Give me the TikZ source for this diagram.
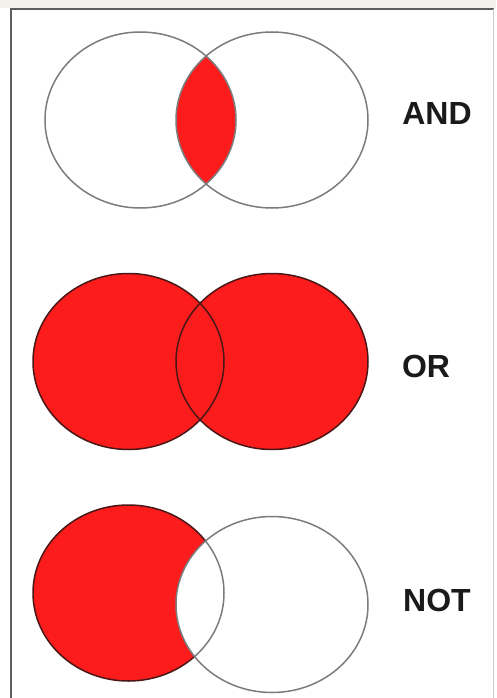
\documentclass[tikz,border=0pt]{standalone}
\usepackage{fontspec}
\setmainfont{Liberation Sans}
\usepackage{xcolor}
\usepackage{tikz}
\definecolor{cRed}{HTML}{FC1C1C}
\definecolor{cEdge}{HTML}{7C7C7C}
\definecolor{cDark}{HTML}{4A1616}
\definecolor{cFrame}{HTML}{5E5E5E}
\definecolor{cTop}{HTML}{F4F1ED}
\definecolor{cInk}{HTML}{1A1A1A}
\tikzset{
  ring/.style={draw=cEdge,line width=1.5pt},
  darkring/.style={draw=cDark,line width=1.5pt},
  oplbl/.style={font=\fontsize{32}{32}\selectfont\bfseries,text=cInk,inner sep=0pt},
  lset/.style={x radius=95.5,y radius=88},
  rset/.style={x radius=96,y radius=88},
}

\begin{document}
\begin{tikzpicture}[x=1pt,y=-1pt]
  \useasboundingbox (0,0) rectangle (496,698);
  \fill[white] (0,0) rectangle (496,698);
  \fill[cTop] (0,0) rectangle (496,8);
  \draw[cFrame,line width=2pt] (11,698) -- (11,9) -- (494,9);
  \draw[black!20,line width=1pt] (493,9) -- (493,698);

  % AND: only the overlap is filled
  \begin{scope}
    \clip (140.5,120) ellipse [lset];
    \fill[cRed] (272,120) ellipse [rset];
  \end{scope}
  \draw[ring] (140.5,120) ellipse [lset];
  \draw[ring] (272,120) ellipse [rset];
  \node[oplbl] (andlbl) at (437,113) {AND};

  % OR: both sets filled
  \fill[cRed] (128.5,361.5) ellipse [lset];
  \fill[cRed] (272,361.5) ellipse [rset];
  \draw[darkring] (128.5,361.5) ellipse [lset];
  \draw[darkring] (272,361.5) ellipse [rset];
  \node[oplbl] (orlbl) at (426,366) {OR};

  % NOT: left set minus the right one
  \fill[cRed] (128.5,593) ellipse [lset];
  \draw[darkring] (128.5,593) ellipse [lset];
  \fill[white] (272,604.5) ellipse [rset];
  \begin{scope}
    \clip (272,604.5) ellipse [rset];
    \draw[ring] (128.5,593) ellipse [lset];
  \end{scope}
  \draw[ring] (272,604.5) ellipse [rset];
  \node[oplbl] (notlbl) at (437,600) {NOT};
\end{tikzpicture}
\end{document}
